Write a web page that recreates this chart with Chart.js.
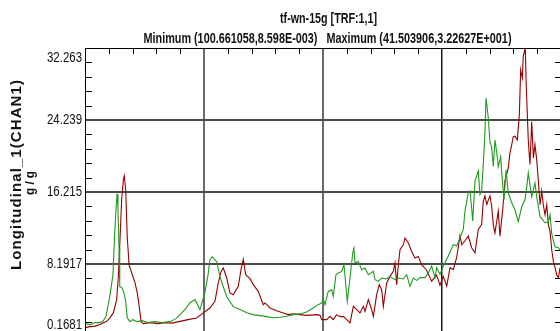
<!DOCTYPE html>
<html><head><meta charset="utf-8">
<script src="https://cdn.jsdelivr.net/npm/chart.js@4.4.1/dist/chart.umd.min.js"></script>
<style>html,body{margin:0;padding:0;background:#fff;overflow:hidden;width:560px;height:331px}canvas{display:block}</style>
</head><body><canvas id="c" width="654" height="345"></canvas>
<script>
const titleMain = 'tf-wn-15g [TRF:1,1]';
const titleSub = 'Minimum (100.661058,8.598E-003)   Maximum (41.503906,3.22627E+001)';
const yAxisTitle = 'Longitudinal_1(CHAN1)';
const yAxisUnit = 'g / g';
const yTickValues = [0.1681, 8.19175, 16.2154, 24.239, 32.2627];
const yTickLabels = ['0.1681', '8.1917', '16.215', '24.239', '32.263'];
const xTickValues = [4.5, 14.5, 24.5, 34.5, 44.5];

const greenFreq = [4.50,4.92,5.34,5.76,6.01,6.26,6.58,6.85,7.00,7.13,7.19,7.27,7.36,7.42,7.57,7.75,7.92,8.05,8.26,8.53,8.87,9.29,9.79,10.38,10.97,11.64,12.15,12.48,12.90,13.32,13.74,14.16,14.58,14.84,15.00,15.20,15.57,15.84,16.12,16.41,16.96,17.53,18.09,18.62,19.21,19.77,20.30,20.89,21.45,22.00,22.57,23.13,23.68,24.10,24.39,24.52,24.67,24.94,25.23,25.36,25.59,25.79,26.07,26.26,26.34,26.54,26.77,27.00,27.10,27.19,27.47,27.75,28.03,28.31,28.73,28.87,29.15,29.43,29.85,30.13,30.55,30.83,31.25,31.53,31.81,32.09,32.37,32.65,33.07,33.35,33.63,33.91,34.05,34.33,34.61,35.03,35.45,35.73,36.01,36.29,36.43,36.71,36.85,36.99,37.08,37.27,37.55,37.69,37.83,37.97,38.11,38.20,38.39,38.53,38.67,38.81,38.95,39.10,39.23,39.43,39.52,39.71,39.88,40.07,40.36,40.63,40.91,41.20,41.47,41.62,41.75,42.04,42.31,42.46,42.74,43.16,43.44,43.58,43.72,44.00,44.28,44.50];
const greenVal = [1.55,1.44,1.66,1.66,1.80,2.33,4.55,7.00,11.79,14.79,16.01,14.46,10.00,5.66,5.61,5.11,4.00,2.21,1.77,1.99,1.77,1.88,1.66,1.77,1.66,1.77,2.10,2.55,3.11,3.88,4.22,3.11,5.00,7.00,8.67,9.00,8.45,6.78,5.66,4.55,3.44,3.11,2.77,2.55,2.44,2.33,2.21,2.25,2.36,2.55,2.63,2.85,3.29,3.66,3.85,4.33,3.66,5.14,5.33,4.58,7.00,7.19,7.37,8.11,7.00,4.03,6.63,9.42,9.97,8.30,8.48,7.56,7.75,7.00,7.37,6.44,6.25,6.63,6.52,6.81,6.44,6.63,6.52,7.00,5.70,6.63,6.37,6.67,6.67,7.19,7.97,6.67,7.78,7.03,7.97,9.08,10.37,10.19,11.12,12.04,14.09,16.13,16.32,14.46,12.98,17.43,18.54,15.94,16.32,19.28,22.99,26.70,24.47,21.80,21.25,19.05,22.02,20.58,19.05,20.13,18.35,15.35,18.69,16.13,15.01,14.23,12.93,14.57,15.35,16.79,18.35,15.68,17.24,15.68,13.46,12.79,12.90,13.68,11.56,10.12,10.00,9.56];

const redFreq = [4.50,4.92,5.34,5.76,6.32,6.60,6.88,7.16,7.30,7.44,7.58,7.72,7.80,7.92,8.05,8.20,8.42,8.70,8.89,9.06,9.21,9.40,9.96,10.63,11.22,11.81,12.48,13.16,13.89,14.44,15.00,15.42,15.70,15.93,16.12,16.41,16.68,16.96,17.38,17.61,17.80,18.00,18.37,18.64,19.06,19.48,19.63,20.05,20.61,21.16,21.58,22.00,22.57,23.13,23.97,24.25,24.39,24.81,25.09,25.36,25.65,25.93,26.21,26.49,26.77,27.05,27.33,27.61,27.89,28.03,28.31,28.59,28.73,29.01,29.23,29.43,29.57,29.85,30.13,30.41,30.55,30.69,30.83,30.97,31.25,31.39,31.67,31.95,32.23,32.51,32.79,33.21,33.63,34.05,34.33,34.61,34.90,35.17,35.45,35.73,36.01,36.16,36.43,36.71,36.99,37.27,37.55,37.83,37.97,38.11,38.26,38.53,38.67,38.81,38.95,39.23,39.37,39.60,39.79,40.07,40.21,40.36,40.49,40.63,40.83,41.00,41.11,41.25,41.33,41.50,41.58,41.75,41.89,42.04,42.18,42.31,42.46,42.59,42.74,42.88,43.01,43.16,43.30,43.44,43.58,43.72,43.86,44.00,44.14,44.28,44.42];
const redVal = [1.10,1.21,1.27,1.44,1.80,2.21,2.74,4.22,6.78,10.89,15.35,17.57,18.02,16.46,11.23,8.11,7.22,6.11,5.00,3.44,1.77,1.55,1.66,1.55,1.66,1.60,1.80,1.99,2.18,2.74,3.29,4.03,6.08,7.33,7.75,6.63,4.96,4.77,5.70,7.56,8.73,7.00,6.56,5.89,5.14,3.66,3.85,3.29,2.99,2.74,2.55,2.63,2.55,2.47,2.55,2.47,1.99,1.99,2.36,1.99,2.55,2.33,2.36,1.99,1.62,3.47,3.11,2.74,3.47,2.92,4.22,3.11,2.36,4.77,5.89,5.33,3.47,6.08,6.81,7.37,8.30,5.89,8.11,9.78,10.34,11.08,10.53,9.59,8.86,9.04,8.11,7.50,6.28,6.95,5.83,6.81,5.72,7.78,7.56,8.89,11.34,10.34,10.78,11.31,10.00,9.45,12.04,12.60,15.20,15.79,14.82,15.79,14.68,12.56,11.67,14.09,11.28,14.23,17.43,18.91,20.54,21.50,22.39,22.44,22.02,24.84,29.81,28.92,31.37,32.2627,28.03,22.02,19.28,24.03,20.02,21.50,19.80,17.57,14.79,16.32,14.79,13.68,14.79,12.56,11.79,9.78,8.45,7.78,7.00,6.67,7.78];

const toPoints = (xs, ys) => xs.map((x, i) => ({ x: x, y: ys[i] }));
const sansFont = "'Liberation Sans', Arial, sans-serif";

// draw text scaled along its baseline to a given width
function drawFitted(ctx, text, x, y, width, align) {
  const w = ctx.measureText(text).width;
  const s = width / w;
  ctx.save();
  ctx.translate(x, y);
  ctx.scale(s, 1);
  ctx.textAlign = align;
  ctx.fillText(text, 0, 0);
  ctx.restore();
}

const decor = {
  id: 'decor',
  afterDatasetsDraw(chart) {
    const ctx = chart.ctx, a = chart.chartArea;
    const xs = chart.scales.x, ys = chart.scales.y;
    ctx.save();
    ctx.strokeStyle = '#000';
    ctx.lineWidth = 1;
    ctx.beginPath();
    ctx.moveTo(a.left + 0.5, a.top); ctx.lineTo(a.left + 0.5, a.bottom);
    ctx.moveTo(a.left, a.top + 0.5); ctx.lineTo(a.right, a.top + 0.5);
    ctx.moveTo(a.right - 0.5, a.top); ctx.lineTo(a.right - 0.5, a.bottom);
    const yStep = (yTickValues[1] - yTickValues[0]) / 5;
    for (let k = 1; k < 20; k++) {
      if (k % 5 === 0) continue;
      const py = Math.round(ys.getPixelForValue(yTickValues[0] + k * yStep)) + 0.5;
      ctx.moveTo(a.left, py); ctx.lineTo(a.left + 7, py);
      ctx.moveTo(a.right - 6, py); ctx.lineTo(a.right, py);
    }
    const xStep = (xTickValues[1] - xTickValues[0]) / 5;
    for (let k = 1; k < 20; k++) {
      if (k % 5 === 0) continue;
      const px = Math.round(xs.getPixelForValue(xTickValues[0] + k * xStep)) + 0.5;
      ctx.moveTo(px, a.top); ctx.lineTo(px, a.top + 6);
    }
    ctx.stroke();
    ctx.restore();
  },
  afterDraw(chart) {
    const ctx = chart.ctx, a = chart.chartArea, ys = chart.scales.y;
    ctx.save();
    ctx.fillStyle = '#111';
    ctx.textBaseline = 'middle';
    ctx.font = 'bold 14px ' + sansFont;
    drawFitted(ctx, titleMain, 328.5, 19, 97, 'center');
    drawFitted(ctx, titleSub, 327.5, 39, 368, 'center');
    // y tick labels
    ctx.font = '14px ' + sansFont;
    const sx = 35 / ctx.measureText('32.263').width;
    yTickValues.forEach((v, i) => {
      let py = ys.getPixelForValue(v);
      py = Math.max(py, a.top + 10);
      py = Math.min(py, 325);
      const w = ctx.measureText(yTickLabels[i]).width * sx;
      drawFitted(ctx, yTickLabels[i], a.left - 3, py, w, 'right');
    });
    // y axis title (rotated)
    ctx.font = 'bold 15px ' + sansFont;
    ctx.save();
    ctx.translate(17, 175);
    ctx.rotate(-Math.PI / 2);
    const plain = ctx.measureText(yAxisTitle).width;
    const sp = Math.max(0, (190 - plain) / (yAxisTitle.length - 1));
    try { ctx.letterSpacing = sp.toFixed(2) + 'px'; } catch (e) {}
    ctx.textAlign = 'left';
    ctx.fillText(yAxisTitle, -95, 0);
    ctx.restore();
    ctx.save();
    ctx.translate(30, 183);
    ctx.rotate(-Math.PI / 2);
    ctx.font = 'bold 13px ' + sansFont;
    drawFitted(ctx, yAxisUnit, 0, 0, 24, 'center');
    ctx.restore();
    ctx.restore();
  }
};

const vGridColors = ['rgba(0,0,0,0)', '#6a6a6a', '#6a6a6a', '#1a1a1a', 'rgba(0,0,0,0)'];
const vGridWidths = [1, 2, 2, 1.5, 1];

new Chart(document.getElementById('c'), {
  type: 'line',
  data: {
    datasets: [
      { label: 'green', data: toPoints(greenFreq, greenVal), borderColor: '#1f9a1f', borderWidth: 1.1, pointRadius: 0, tension: 0, fill: false },
      { label: 'red', data: toPoints(redFreq, redVal), borderColor: '#960000', borderWidth: 1.1, pointRadius: 0, tension: 0, fill: false }
    ]
  },
  options: {
    responsive: false,
    animation: false,
    events: [],
    layout: { padding: { top: 48, right: 93, left: 0, bottom: 0 } },
    plugins: { legend: { display: false }, title: { display: false }, tooltip: { enabled: false } },
    scales: {
      x: {
        type: 'linear', min: xTickValues[0], max: xTickValues[xTickValues.length - 1],
        afterBuildTicks: s => { s.ticks = xTickValues.map(v => ({ value: v })); },
        afterFit: s => { s.height = 9; },
        ticks: { display: false },
        grid: { drawTicks: false, color: c => vGridColors[c.index] || 'rgba(0,0,0,0)', lineWidth: c => vGridWidths[c.index] || 1 },
        border: { display: false }
      },
      y: {
        type: 'linear', min: yTickValues[0], max: yTickValues[yTickValues.length - 1],
        afterBuildTicks: s => { s.ticks = yTickValues.map(v => ({ value: v })); },
        afterFit: s => { s.width = 85; },
        ticks: { display: false },
        grid: { drawTicks: false, color: c => (c.index === 0 || c.index === yTickValues.length - 1) ? 'rgba(0,0,0,0)' : '#4a4a4a', lineWidth: 2 },
        border: { display: false }
      }
    }
  },
  plugins: [decor]
});
</script>
</body></html>
